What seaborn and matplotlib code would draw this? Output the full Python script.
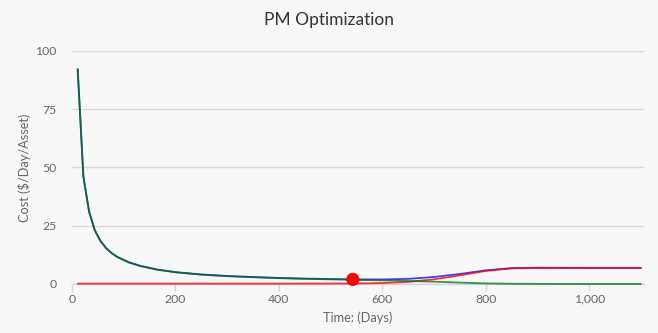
import matplotlib
matplotlib.use("Agg")
import matplotlib.pyplot as plt
import seaborn as sns
import pandas as pd
from matplotlib.ticker import FuncFormatter

days = [11, 22, 33, 44, 55, 66, 77, 88, 110, 132, 165, 200, 250, 300, 350, 400,
        450, 500, 543, 600, 650, 700, 750, 800, 850, 900, 1000, 1100]
pm_cost = [92.0, 46.0, 31.0, 23.0, 18.4, 15.3, 13.1, 11.5, 9.2, 7.7, 6.1, 5.0, 4.0,
           3.35, 2.9, 2.5, 2.2, 2.0, 1.8, 1.55, 1.3, 1.0, 0.6, 0.25, 0.1, 0.05, 0.0, 0.0]
cm_cost = [0.15, 0.15, 0.15, 0.15, 0.15, 0.15, 0.15, 0.15, 0.15, 0.15, 0.15, 0.15, 0.15,
           0.15, 0.15, 0.15, 0.17, 0.2, 0.22, 0.4, 0.9, 2.0, 3.7, 5.6, 6.7, 6.9, 6.9, 6.9]
total_cost = [92.1, 46.1, 31.1, 23.1, 18.5, 15.4, 13.2, 11.6, 9.3, 7.8, 6.2, 5.1, 4.1,
              3.45, 3.0, 2.6, 2.32, 2.15, 1.98, 1.95, 2.2, 3.0, 4.3, 5.85, 6.8, 6.95, 6.9, 6.9]
optimum_day = [543]
optimum_cost = [1.98]

x_ticks = [0, 200, 400, 600, 800, 1000]
y_ticks = [0, 25, 50, 75, 100]

df = pd.DataFrame({"day": days, "pm": pm_cost, "cm": cm_cost, "total": total_cost})
opt = pd.DataFrame({"day": optimum_day, "cost": optimum_cost})

sns.set_theme(style="white")
plt.rcParams["font.family"] = ["Lato", "DejaVu Sans"]

bg = "#f8f8f8"
fig = plt.figure(figsize=(6.58, 3.33), dpi=100, facecolor=bg)
ax = fig.add_axes([72/658, 1-284/333, (644-72)/658, (284-50.7)/333])
ax.set_facecolor(bg)

sns.lineplot(data=df, x="day", y="total", color="#0000ff", linewidth=1.3, alpha=0.75, ax=ax)
sns.lineplot(data=df, x="day", y="cm", color="#ff0000", linewidth=1.3, alpha=0.8, ax=ax)
sns.lineplot(data=df, x="day", y="pm", color="#007000", linewidth=1.3, alpha=0.75, ax=ax)
for ln in ax.lines:
    ln.set_zorder(3)
    ln.set_clip_on(False)
sns.scatterplot(data=opt, x="day", y="cost", color="#ff0000", s=90, edgecolor="none", zorder=5, ax=ax, clip_on=False)

ax.set_xlim(0, 1106)
ax.set_ylim(0, 100)
ax.set_xticks(x_ticks)
ax.set_yticks(y_ticks)
ax.xaxis.set_major_formatter(FuncFormatter(lambda v, p: f"{int(v):,}"))
ax.yaxis.grid(True, color="#d8d8d8", linewidth=1)
ax.xaxis.grid(False)
ax.set_axisbelow(True)
for s in ["top", "right", "left"]:
    ax.spines[s].set_visible(False)
ax.spines["bottom"].set_color("#ccd6eb")
ax.spines["bottom"].set_linewidth(1)
ax.spines["bottom"].set_zorder(2)
ax.tick_params(axis="x", which="both", bottom=True, length=5, width=1, color="#ccd6eb",
               labelsize=8.8, labelcolor="#666666", pad=2)
ax.tick_params(axis="y", left=False, length=0, labelsize=8.8, labelcolor="#666666", pad=11)

ax.set_xlabel("Time: (Days)", fontsize=9.2, color="#666666", labelpad=5)
ax.set_ylabel("Cost ($/Day/Asset)", fontsize=9.2, color="#666666")
ax.yaxis.set_label_coords((31 - 72) / 572, 0.5)
fig.text(0.5, 1-20/333, "PM Optimization", ha="center", va="center", fontsize=12.5, color="#333333")

fig.savefig("out.png", dpi=100, facecolor=bg)
